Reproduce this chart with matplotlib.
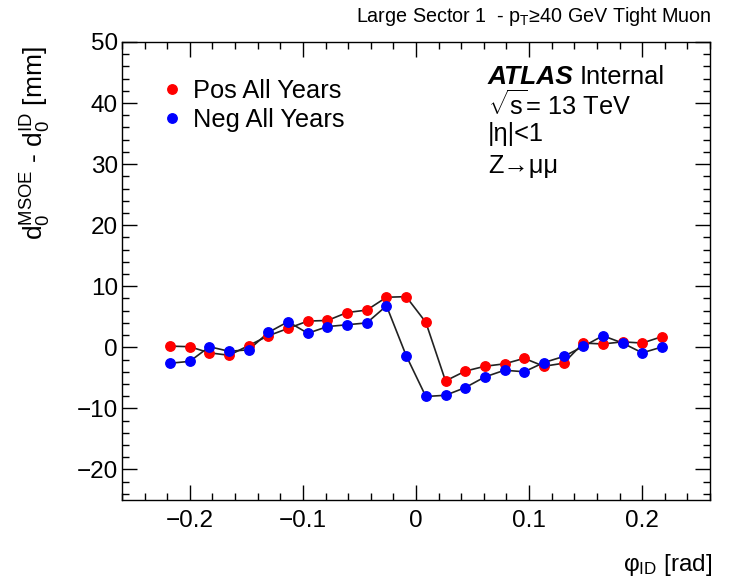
import numpy as np
import matplotlib
matplotlib.use("Agg")
import matplotlib.pyplot as plt
from matplotlib.lines import Line2D
from matplotlib.ticker import MultipleLocator

plt.rcParams['font.family'] = ['Liberation Sans', 'DejaVu Sans']
plt.rcParams['mathtext.fontset'] = 'custom'
plt.rcParams['mathtext.rm'] = 'Liberation Sans'
plt.rcParams['mathtext.it'] = 'Liberation Sans:italic'
plt.rcParams['mathtext.bf'] = 'Liberation Sans:bold'
plt.rcParams['mathtext.default'] = 'regular'

# ---- data ----
phi = np.linspace(-0.2175, 0.2175, 26)
pos_all_years = [0.2, 0.1, -0.9, -1.3, 0.3, 1.9, 3.1, 4.3, 4.4, 5.7, 6.1, 8.2, 8.3,
                 4.1, -5.5, -3.9, -3.1, -2.7, -1.8, -3.1, -2.6, 0.7, 0.55, 0.9, 0.7, 1.75]
neg_all_years = [-2.6, -2.3, 0.1, -0.65, -0.4, 2.45, 4.2, 2.3, 3.4, 3.7, 4.0, 6.8, -1.35,
                 -8.05, -7.85, -6.6, -4.85, -3.75, -4.0, -2.5, -1.5, 0.15, 1.9, 0.7, -0.9, 0.05]
series_labels = ["Pos All Years", "Neg All Years"]
series_colors = ["#ff0000", "#0000ff"]

W, H = 729, 588
fig = plt.figure(figsize=(W / 100, H / 100), dpi=100)
ax = fig.add_axes([122 / W, 1 - 500 / H, (710 - 122) / W, (500 - 42) / H])

for yv, col in zip([pos_all_years, neg_all_years], series_colors):
    ax.plot(phi, yv, color='#222222', lw=1.2, zorder=2)
    ax.plot(phi, yv, 'o', color=col, ms=6.8, mec=col, zorder=3)

ax.set_xlim(-0.26, 0.26)
ax.set_ylim(-25, 50)
ax.xaxis.set_major_locator(MultipleLocator(0.1))
ax.xaxis.set_minor_locator(MultipleLocator(0.02))
ax.yaxis.set_major_locator(MultipleLocator(10))
ax.yaxis.set_minor_locator(MultipleLocator(2))
ax.tick_params(which='both', direction='in', top=True, right=True, width=1)
ax.tick_params(which='major', length=10.5)
ax.tick_params(which='minor', length=5)
ax.tick_params(axis='x', which='major', labelsize=17.5, pad=7)
ax.tick_params(axis='y', which='major', labelsize=17.5, pad=3)
ax.xaxis.set_major_formatter(matplotlib.ticker.FuncFormatter(
    lambda v, p: ("\u2212" if v < -1e-9 else "") + ("0" if abs(v) < 1e-9 else f"{abs(v):.1f}")))
ax.yaxis.set_major_formatter(matplotlib.ticker.FuncFormatter(
    lambda v, p: ("\u2212" if v < 0 else "") + f"{abs(int(round(v)))}"))
for s in ax.spines.values():
    s.set_linewidth(1)

handles = [Line2D([], [], ls='none', marker='o', color=c, ms=6.8) for c in series_colors]
ax.legend(handles, series_labels, loc='upper left', bbox_to_anchor=(0.068, 0.92),
          frameon=False, fontsize=18.3, handlelength=0.8, handletextpad=0.42,
          labelspacing=0.2, borderpad=0, borderaxespad=0)

# ATLAS label block
fs = 18.3
fig.text(488 / W, 1 - 77 / H, "ATLAS", fontsize=fs + 0.7, fontweight='bold', fontstyle='italic',
         va='center', ha='left')
fig.text(580 / W, 1 - 77 / H, "Internal", fontsize=fs, va='center', ha='left')
fig.text(488 / W, 1 - 105 / H, r"$\sqrt{s}$= 13 TeV", fontsize=fs, va='center', ha='left')
fig.text(488 / W, 1 - 134 / H, "|\u03b7|<1", fontsize=fs, va='center', ha='left')
fig.text(488 / W, 1 - 166 / H, "Z\u2192\u03bc\u03bc", fontsize=fs, va='center', ha='left')

# title
fig.text(712 / W, 1 - 17 / H, r"Large Sector 1  - p$_{T}$" + "\u226540 GeV Tight Muon",
         fontsize=14.2, ha='right', va='center')

# axis titles
fig.text(36 / W, 1 - 46 / H, r"d$_{0}^{MSOE}$ - d$_{0}^{ID}$ [mm]", fontsize=19,
         rotation=90, ha='center', va='top')
fig.text(712 / W, 1 - 565 / H, "\u03c6$_{ID}$ [rad]", fontsize=17.5, ha='right', va='center')

fig.savefig("out.png", dpi=100)
